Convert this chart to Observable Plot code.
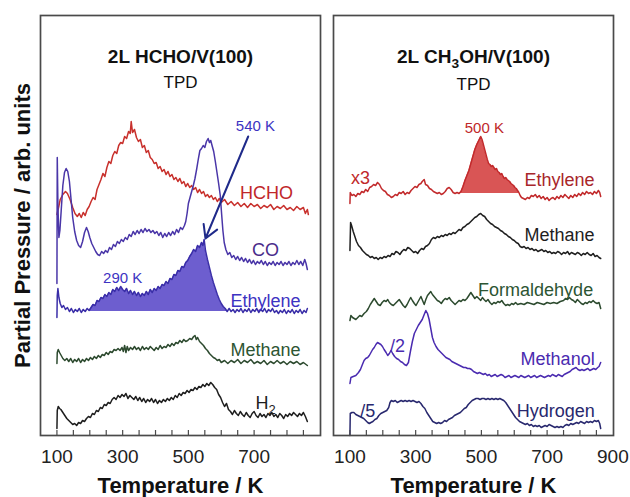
<!DOCTYPE html>
<html><head><meta charset="utf-8">
<script src="https://cdn.jsdelivr.net/npm/d3@7"></script>
<script src="https://cdn.jsdelivr.net/npm/@observablehq/plot@0.6"></script>
<style>
html,body{margin:0;padding:0;background:#fff;}
#wrap{position:relative;width:630px;height:497px;overflow:hidden;}
#wrap svg{position:absolute;top:0;}
</style></head><body><div id="wrap"></div>
<script>
// ---------- DATA (temperature K, signal arb. units) ----------
const hcho = [[100,221],[105,228],[110,236],[118,241],[126,244],[132,242],[140,236],[148,228],[155,222],[162,219],[168,222],[174,218],[180,223],[186,220],[192,226],[198,229],[204,234],[210,238],[216,236],[222,246],[228,251],[234,256],[240,262],[246,259],[252,268],[258,274],[264,272],[270,280],[276,284],[282,282],[288,290],[294,293],[300,292],[306,299],[312,297],[318,304],[323,302],[326,314],[330,303],[336,306],[342,298],[348,294],[354,296],[360,288],[366,290],[372,283],[378,285],[384,278],[390,276],[396,272],[402,273],[408,267],[414,269],[420,264],[426,266],[432,261],[438,264],[444,259],[450,261],[456,256],[462,258],[468,254],[474,257],[480,252],[486,254],[492,249],[498,252],[504,248],[510,250],[516,246],[522,248],[528,243],[534,246],[540,242],[546,244],[552,239],[558,241],[564,238],[570,240],[576,236],[582,238],[588,234],[594,237],[600,233],[610,236],[620,231],[630,234],[640,230],[650,233],[660,229],[670,232],[680,228],[690,232],[700,229],[710,231],[720,227],[730,230],[740,228],[750,231],[760,226],[770,229],[780,227],[790,230],[800,226],[810,228],[820,225],[830,229],[840,226],[850,228],[856,222],[862,226],[865,221]];
const co = [[100,152],[101,278],[103,230],[106,198],[109,205],[113,225],[118,250],[123,263],[128,267],[133,264],[138,254],[143,236],[148,218],[154,204],[160,195],[166,190],[172,188],[178,194],[184,203],[190,208],[195,204],[200,198],[206,192],[212,188],[218,184],[224,181],[230,180],[236,184],[242,182],[248,185],[254,183],[260,188],[266,186],[272,191],[278,189],[284,194],[290,192],[296,196],[302,194],[308,198],[314,196],[320,201],[326,199],[332,204],[338,201],[344,205],[350,202],[356,206],[362,203],[368,207],[374,204],[380,206],[386,203],[392,205],[398,202],[404,204],[410,200],[416,203],[422,198],[428,202],[434,199],[440,203],[446,200],[452,204],[458,201],[464,206],[470,203],[476,208],[482,206],[488,210],[492,214],[496,222],[500,232],[505,238],[510,244],[515,250],[520,257],[525,266],[530,276],[535,285],[540,287],[545,290],[550,288],[555,294],[560,297],[564,293],[568,295],[572,290],[577,284],[582,274],[587,263],[592,252],[597,240],[601,222],[605,205],[609,193],[614,186],[620,181],[626,183],[632,178],[638,180],[644,176],[650,179],[656,175],[662,178],[668,174],[674,177],[680,173],[686,176],[692,172],[698,175],[704,171],[710,174],[716,172],[722,175],[728,171],[734,174],[740,170],[746,173],[752,171],[758,174],[764,170],[770,173],[776,171],[782,174],[788,170],[794,173],[800,171],[806,174],[812,170],[818,173],[824,171],[830,175],[836,171],[842,174],[848,170],[854,176],[858,172],[862,166]];
const ethyleneL = [[100,118],[101,140],[103,147],[106,138],[110,132],[115,128],[120,130],[126,126],[132,128],[138,124],[144,127],[150,123],[156,126],[162,124],[168,127],[174,123],[180,126],[186,124],[192,127],[198,125],[204,128],[210,131],[216,130],[222,135],[228,134],[234,138],[240,137],[246,141],[252,139],[258,143],[264,141],[270,146],[276,144],[282,148],[288,145],[294,149],[300,146],[306,144],[312,147],[318,142],[324,145],[330,141],[336,144],[342,140],[348,143],[354,139],[360,142],[366,140],[372,144],[378,141],[384,146],[390,143],[396,147],[402,145],[408,149],[414,147],[420,151],[426,150],[432,154],[438,152],[444,157],[450,156],[456,161],[462,160],[468,165],[474,164],[480,169],[486,168],[492,173],[498,175],[504,179],[510,182],[516,186],[522,184],[528,190],[534,188],[540,193],[544,190],[548,196],[552,185],[558,176],[564,168],[570,160],[576,153],[582,147],[588,141],[594,136],[600,132],[606,129],[612,127],[618,124],[624,127],[630,124],[636,126],[642,123],[648,126],[654,124],[660,127],[666,123],[672,126],[678,124],[684,127],[690,123],[696,126],[702,124],[708,127],[714,123],[720,126],[726,124],[732,127],[738,123],[744,126],[750,124],[756,127],[762,123],[768,125],[774,122],[780,125],[786,123],[792,126],[798,122],[804,125],[810,123],[816,126],[822,122],[828,125],[834,123],[840,126],[846,122],[852,125],[858,123],[862,127]];
const methaneL = [[100,72],[101,83],[104,86],[108,83],[113,80],[118,77],[124,75],[130,77],[136,74],[142,77],[148,73],[154,76],[160,74],[166,77],[172,73],[178,76],[184,74],[190,77],[196,75],[202,78],[208,76],[214,79],[220,77],[226,80],[232,78],[238,81],[244,80],[250,83],[256,81],[262,84],[268,83],[274,86],[280,85],[286,87],[292,85],[298,88],[302,84],[306,90],[310,83],[314,89],[318,85],[324,88],[330,86],[336,89],[342,86],[348,88],[354,85],[360,89],[366,86],[372,88],[378,86],[384,89],[390,87],[396,85],[402,88],[408,86],[414,90],[420,87],[426,89],[432,88],[438,91],[444,89],[450,92],[456,90],[462,93],[468,92],[474,95],[480,93],[486,96],[492,94],[498,95],[504,97],[510,96],[516,99],[520,100],[524,96],[528,98],[534,94],[540,92],[546,90],[552,87],[558,85],[564,82],[570,80],[576,78],[582,77],[588,75],[594,76],[600,73],[610,75],[620,72],[630,75],[640,73],[650,76],[660,72],[670,75],[680,73],[690,76],[700,72],[710,74],[720,72],[730,75],[740,71],[750,74],[760,72],[770,75],[780,72],[790,74],[800,71],[810,74],[820,72],[830,74],[840,71],[850,73],[862,70]];
const h2 = [[100,7],[101,25],[104,29],[108,27],[112,26],[118,23],[124,20],[130,17],[136,15],[142,13],[148,11],[154,12],[160,10],[166,13],[172,12],[178,15],[184,14],[190,17],[196,19],[202,18],[208,22],[214,21],[220,25],[226,24],[232,28],[238,27],[244,31],[250,30],[256,33],[262,32],[268,36],[274,38],[280,36],[286,40],[292,38],[298,41],[304,39],[310,42],[316,37],[322,40],[328,38],[334,36],[340,39],[346,35],[352,38],[358,34],[364,37],[370,33],[376,36],[382,34],[388,37],[394,33],[400,36],[406,32],[412,35],[418,33],[424,36],[430,34],[436,37],[442,35],[448,38],[454,36],[460,40],[466,38],[472,42],[478,40],[484,43],[490,42],[496,45],[502,43],[508,46],[514,45],[520,48],[526,46],[532,49],[538,48],[544,51],[550,49],[556,52],[562,50],[568,53],[574,51],[580,48],[586,46],[592,41],[598,38],[604,33],[610,29],[616,32],[622,26],[628,24],[634,21],[640,25],[646,22],[652,20],[658,24],[664,21],[670,19],[676,23],[682,20],[688,18],[694,22],[700,24],[706,20],[712,18],[718,22],[724,19],[730,21],[736,18],[742,22],[748,20],[754,23],[760,19],[766,21],[772,18],[778,22],[784,20],[790,17],[796,21],[802,19],[808,22],[814,20],[820,23],[826,21],[832,19],[838,22],[844,20],[850,23],[856,19],[862,14]];

const ethyleneR = [[100,232],[101,243],[106,240],[112,241],[118,239],[124,242],[130,241],[136,244],[142,243],[148,246],[154,244],[160,248],[166,249],[172,251],[178,250],[184,253],[190,251],[196,247],[202,245],[208,244],[214,241],[220,240],[226,238],[232,239],[238,241],[244,240],[250,243],[256,242],[262,244],[268,241],[274,243],[280,242],[286,245],[292,247],[298,249],[304,248],[310,251],[316,252],[320,254],[326,256],[330,251],[336,250],[342,247],[348,246],[354,244],[360,243],[366,242],[372,243],[378,241],[384,242],[390,244],[396,247],[402,248],[408,246],[414,243],[420,242],[426,243],[432,242],[438,244],[444,249],[450,255],[456,260],[462,265],[468,272],[474,279],[480,286],[486,291],[492,295],[498,299],[502,296],[506,291],[510,286],[514,281],[518,276],[522,272],[526,271],[530,269],[534,270],[538,268],[542,266],[546,267],[550,264],[554,263],[558,261],[562,262],[566,259],[570,257],[574,258],[578,256],[582,255],[586,254],[590,252],[594,251],[598,250],[602,248],[606,247],[610,245],[614,243],[618,240],[622,238],[628,237],[634,236],[640,238],[646,237],[652,240],[658,239],[664,241],[670,238],[676,240],[682,237],[688,239],[694,236],[700,238],[706,235],[712,237],[718,238],[724,236],[730,239],[736,237],[742,240],[748,238],[754,241],[760,239],[766,237],[772,240],[778,238],[784,241],[790,239],[796,242],[802,240],[808,243],[814,241],[820,244],[826,242],[832,243],[838,241],[844,244],[850,242],[856,245],[860,243],[863,239]];
const methaneR = [[100,185],[102,213],[105,210],[110,204],[115,199],[120,194],[126,190],[132,188],[138,185],[144,183],[150,181],[156,180],[162,178],[168,179],[174,177],[180,178],[186,176],[192,178],[198,177],[204,179],[210,178],[216,180],[222,179],[228,182],[234,181],[240,184],[246,183],[252,181],[258,184],[264,186],[270,185],[276,188],[282,187],[288,185],[294,183],[300,184],[306,182],[312,185],[318,187],[324,186],[330,189],[336,190],[342,192],[348,196],[354,198],[360,197],[366,199],[372,198],[378,200],[384,199],[390,201],[396,200],[402,202],[408,201],[414,203],[420,202],[426,204],[432,206],[438,205],[444,208],[450,209],[456,211],[462,212],[468,214],[474,216],[480,218],[486,219],[492,221],[498,222],[504,220],[510,219],[516,216],[522,214],[528,212],[534,211],[540,209],[546,208],[552,207],[558,205],[564,204],[570,202],[576,201],[582,199],[588,198],[594,196],[600,195],[606,193],[612,192],[618,189],[624,188],[630,189],[636,187],[642,188],[648,186],[654,187],[660,185],[666,186],[672,184],[678,185],[684,186],[690,184],[696,185],[702,183],[708,184],[714,182],[720,183],[726,182],[732,184],[738,183],[744,181],[750,183],[756,182],[762,184],[768,181],[774,183],[780,182],[786,181],[792,183],[798,182],[804,180],[810,182],[816,181],[822,183],[828,181],[834,180],[840,182],[846,179],[852,180],[858,178],[863,177]];
const formaldehyde = [[100,115],[103,120],[108,118],[113,117],[118,116],[124,118],[130,120],[136,119],[143,122],[150,124],[156,127],[162,131],[168,134],[174,137],[180,134],[186,131],[192,130],[198,133],[204,135],[210,134],[215,136],[220,133],[226,131],[232,130],[238,132],[244,134],[250,136],[256,133],[262,130],[268,128],[274,131],[280,135],[285,138],[290,135],[296,132],[301,130],[306,133],[311,136],[316,139],[321,135],[326,131],[331,136],[336,140],[341,142],[346,144],[351,141],[356,139],[361,137],[366,135],[372,134],[378,132],[384,135],[390,137],[396,136],[402,138],[408,135],[414,133],[420,131],[426,133],[432,135],[438,134],[444,136],[450,135],[456,137],[462,140],[468,143],[474,140],[480,137],[486,139],[492,137],[498,135],[503,138],[508,136],[514,134],[520,136],[526,133],[532,131],[538,133],[544,132],[550,134],[556,133],[562,135],[568,132],[574,130],[580,131],[586,130],[592,132],[598,131],[604,133],[610,131],[620,132],[630,131],[640,133],[650,132],[660,131],[670,133],[680,132],[690,131],[700,133],[710,132],[720,133],[730,132],[740,134],[750,135],[756,137],[762,136],[768,138],[774,136],[780,135],[786,133],[792,136],[798,134],[804,132],[810,131],[816,133],[822,132],[828,134],[834,133],[840,135],[846,133],[852,132],[858,133],[863,127]];
const methanol = [[100,52],[103,58],[110,59],[118,60],[126,63],[132,66],[138,71],[143,75],[148,77],[154,78],[159,80],[164,83],[169,86],[174,88],[179,91],[184,93],[189,92],[194,91],[199,89],[204,86],[210,83],[215,80],[220,82],[225,85],[230,82],[236,79],[242,77],[248,76],[254,74],[260,73],[266,71],[272,70],[278,73],[284,84],[290,94],[296,102],[302,106],[308,110],[314,113],[320,116],[326,121],[331,125],[336,122],[341,116],[346,107],[351,98],[356,93],[362,89],[368,86],[374,84],[380,82],[386,80],[392,78],[398,77],[404,76],[410,74],[416,73],[422,72],[428,71],[434,70],[440,69],[446,68],[452,68],[458,67],[464,67],[470,66],[476,64],[482,63],[488,62],[494,63],[500,62],[506,61],[512,62],[518,60],[524,61],[530,59],[536,60],[542,61],[548,59],[554,60],[560,61],[566,60],[572,58],[578,59],[584,60],[590,58],[596,59],[602,60],[608,59],[614,58],[620,60],[626,59],[632,58],[638,59],[644,60],[650,58],[656,59],[662,60],[668,58],[674,59],[680,60],[686,59],[692,58],[698,59],[704,60],[710,59],[716,61],[722,60],[728,59],[734,61],[740,60],[746,59],[752,61],[758,62],[764,63],[770,64],[776,66],[782,67],[788,68],[794,66],[800,65],[806,66],[812,65],[818,66],[824,67],[830,65],[836,66],[842,67],[848,66],[854,68],[858,69],[863,73]];
const hydrogen = [[100,0],[101,22],[106,23],[112,23],[118,21],[124,20],[130,19],[136,18],[142,17],[148,15],[154,13],[159,12],[164,13],[170,14],[176,16],[182,17],[188,20],[194,22],[200,23],[206,24],[212,25],[218,28],[222,33],[226,35],[232,34],[238,35],[244,33],[250,34],[256,35],[262,34],[268,35],[274,34],[280,35],[286,34],[292,35],[298,34],[304,33],[310,34],[316,32],[322,29],[328,27],[334,23],[340,20],[346,17],[352,14],[358,13],[364,12],[370,13],[376,12],[382,13],[388,15],[394,14],[400,16],[406,17],[412,18],[418,20],[424,21],[430,22],[436,23],[442,25],[448,27],[454,28],[460,31],[466,33],[472,35],[478,36],[484,37],[490,37],[496,36],[502,37],[508,37],[514,36],[520,37],[526,36],[532,37],[538,36],[544,37],[550,36],[556,37],[562,36],[568,35],[574,33],[580,30],[586,27],[592,24],[598,21],[604,18],[610,16],[616,14],[622,13],[628,12],[634,11],[640,12],[646,10],[652,11],[658,9],[664,10],[670,9],[676,10],[682,8],[688,9],[694,10],[700,9],[706,11],[712,10],[718,9],[724,8],[730,9],[736,8],[742,9],[748,8],[754,10],[760,11],[766,10],[772,12],[778,11],[784,12],[790,13],[796,12],[802,14],[808,13],[814,12],[820,14],[826,13],[832,14],[838,13],[844,15],[850,14],[856,15],[860,12],[863,7]];

// shaded peak ranges [T start, T end] and their baseline levels
const ethyleneFillL = [198, 618];
const ethyleneBaseL = 124;
const ethyleneFillR = [432, 617];
const ethyleneBaseR = 242;

// tick values and labels
const minorTicks = [100,150,200,250,300,350,400,450,500,550,600,650,700,750,800,850];
const tickLabelsL = [100,300,500,700];
const tickLabelsR = [100,300,500,700,900];

// text
const titleL = "2L HCHO/V(100)";
const titleR = "2L CH3OH/V(100)";
const subtitle = "TPD";
const xLabel = "Temperature / K";
const yLabel = "Partial Pressure / arb. units";

// annotations: [text, T, signal]
const annotL = [["HCHO",738,237],["CO",735,180],["Ethylene",735,129],["Methane",735,80],["H2",735,27],["540 K",704,305],["290 K",300,153]];
const annotR = [["x3",132,252],["500 K",509,303],["Ethylene",738,250],["Methane",738,195],["Formaldehyde",665,140],["Methanol",732,71],["/2",245,84],["Hydrogen",726,19],["/5",154,19]];
const arrow540 = [{T1:682, p1:299, T2:552, p2:197}];

// ---------- RENDER ----------
const font = '"Liberation Sans", Arial, Helvetica, sans-serif';
const rows = arr => arr.map(([T, p]) => ({T, p}));
const ann = arr => arr.map(([text, T, p]) => ({text, T, p}));
const C = {
  hcho:"#c8302c", co:"#4a36a8", ethL:"#3a2ea8", ethLfill:"#6d5ecf",
  methL:"#2d4a2f", h2:"#1e1e1e",
  ethR:"#c22a2c", ethRfill:"#d95555", methR:"#1e1e1e", form:"#2c4a2e", meoh:"#4a2bb0", hyd:"#28286e"
};
const annColor = {
  "HCHO":"#c0282a","CO":"#4a2d8a","Ethylene":"#3d33c2","Methane":"#2d5533","H2":"#1e1e1e","540 K":"#3d33c2","290 K":"#3d33c2"
};
const annColorR = {
  "x3":"#c0282a","500 K":"#c0282a","Ethylene":"#a8262a","Methane":"#1e1e1e","Formaldehyde":"#2d5533","Methanol":"#4a2bb0","/2":"#4a2bb0","Hydrogen":"#28286e","/5":"#28286e"
};
const annSize = t => (t.endsWith(" K") ? 15 : 18);

function common(w, ml, mr) {
  return {
    width: w, height: 497, marginLeft: ml, marginRight: mr, marginTop: 15, marginBottom: 62,
    x: {domain: [50, 902]},
    y: {domain: [0, 420], axis: null},
    style: {fontFamily: font, fontSize: "19px", overflow: "visible", background: "transparent", color: "#222"}
  };
}
function axes(labels) {
  return [
    Plot.frame({stroke: "#4a4a4a", strokeWidth: 1.7}),
    Plot.axisX({ticks: minorTicks, tickSize: -5, tickFormat: () => "", stroke: "#4a4a4a", strokeWidth: 1.2, label: null}),
    Plot.axisX({ticks: labels, tickSize: 0, tickPadding: 14, label: null, fontSize: 19, fill: "#222"}),
    Plot.text([xLabel], {frameAnchor: "bottom", dy: 57, lineAnchor: "bottom", fontSize: 22, fontWeight: "bold", fill: "#111"})
  ];
}
function titles(t, dyT) {
  return [
    Plot.text([t], {frameAnchor: "top", dy: 47, lineAnchor: "bottom", fontSize: 19, fontWeight: "bold", fill: "#111"}),
    Plot.text([subtitle], {frameAnchor: "top", dy: dyT, lineAnchor: "bottom", fontSize: 17, fill: "#111"})
  ];
}
const line = (d, stroke) => Plot.line(rows(d), {x: "T", y: "p", stroke, strokeWidth: 1.5, curve: "linear"});

const left = Plot.plot({
  ...common(326, 40, 6),
  marks: [
    Plot.areaY(rows(ethyleneL).filter(d => d.T >= ethyleneFillL[0] && d.T <= ethyleneFillL[1]), {x: "T", y1: ethyleneBaseL, y2: "p", fill: C.ethLfill}),
    line(hcho, C.hcho), line(co, C.co), line(ethyleneL, C.ethL), line(methaneL, C.methL), line(h2, C.h2),
    Plot.arrow(arrow540, {x1: "T1", y1: "p1", x2: "T2", y2: "p2", stroke: "#1f2a8a", strokeWidth: 2, headLength: 11}),
    Plot.text(ann(annotL), {x: "T", y: "p", text: "text", lineAnchor: "bottom", fill: d => annColor[d.text], fontSize: d => annSize(d.text)}),
    ...titles(titleL, 72),
    ...axes(tickLabelsL),
    Plot.text([yLabel], {frameAnchor: "left", textAnchor: "middle", lineAnchor: "middle", rotate: -90, dx: -18, fontSize: 22, fontWeight: "bold", fill: "#111"})
  ]
});
const right = Plot.plot({
  ...common(303, 6, 17),
  marks: [
    Plot.areaY(rows(ethyleneR).filter(d => d.T >= ethyleneFillR[0] && d.T <= ethyleneFillR[1]), {x: "T", y1: ethyleneBaseR, y2: "p", fill: C.ethRfill}),
    line(ethyleneR, C.ethR), line(methaneR, C.methR), line(formaldehyde, C.form), line(methanol, C.meoh), line(hydrogen, C.hyd),
    Plot.text(ann(annotR), {x: "T", y: "p", text: "text", lineAnchor: "bottom", fill: d => annColorR[d.text], fontSize: d => annSize(d.text)}),
    ...titles(titleR, 74),
    ...axes(tickLabelsR)
  ]
});

function subscript(svg, full, pre, sub, post, shift) {
  const ns = "http://www.w3.org/2000/svg";
  svg.querySelectorAll("text").forEach(t => {
    if (t.textContent === full && !t.querySelector("tspan")) {
      t.textContent = "";
      const a = document.createElementNS(ns, "tspan"); a.textContent = pre; t.appendChild(a);
      const b = document.createElementNS(ns, "tspan"); b.textContent = sub; b.setAttribute("dy", shift); b.setAttribute("font-size", "0.72em"); t.appendChild(b);
      if (post) { const c = document.createElementNS(ns, "tspan"); c.textContent = post; c.setAttribute("dy", -shift); t.appendChild(c); }
    }
  });
}
subscript(left, "H2", "H", "2", "", 5);
subscript(right, titleR, "2L CH", "3", "OH/V(100)", 5);

left.style.left = "0px";
right.style.left = "327px";
const wrap = document.getElementById("wrap");
wrap.appendChild(left);
wrap.appendChild(right);
</script></body></html>
